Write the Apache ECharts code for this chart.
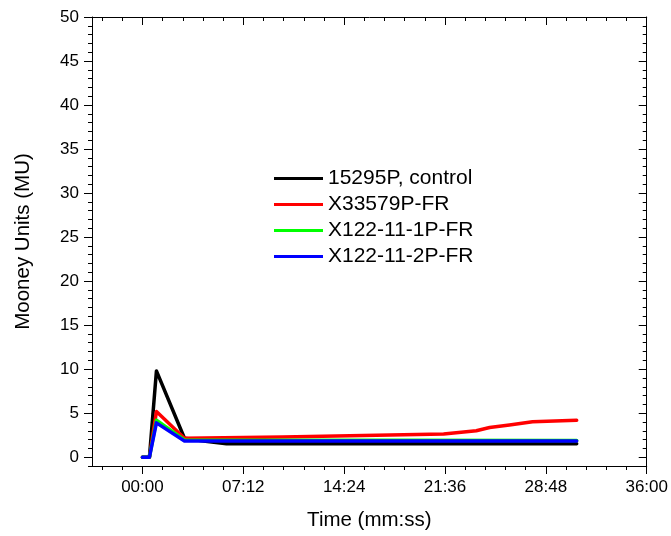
<!DOCTYPE html>
<html>
<head>
<meta charset="utf-8">
<script src="https://cdn.jsdelivr.net/npm/echarts@6/dist/echarts.min.js"></script>
<style>html,body{margin:0;padding:0;background:#fff}#c{width:671px;height:536px}</style>
</head>
<body>
<div id="c"></div>
<script>
// ---- data (time in seconds, value in Mooney Units) ----
var seriesNames = ['15295P, control', 'X33579P-FR', 'X122-11-1P-FR', 'X122-11-2P-FR'];
var seriesColors = ['#000000', '#ff0000', '#00ff00', '#0000ff'];
var controlData = [[0,0],[30,0],[60,9.8],[180,2.15],[270,1.8],[360,1.52],[1860,1.52]];
var x33579Data  = [[0,0],[30,0],[60,5.2],[180,2.15],[600,2.28],[1290,2.64],[1430,3.0],[1487,3.38],[1572,3.66],[1671,4.02],[1860,4.2]];
var x1221Data   = [[0,0],[30,0],[60,4.2],[180,1.95],[1860,1.9]];
var x1222Data   = [[0,0],[30,0],[60,3.9],[180,1.85],[1860,1.83]];

var xTickValues = [0, 432, 864, 1296, 1728, 2160];
var xTickLabels = ['00:00', '07:12', '14:24', '21:36', '28:48', '36:00'];
var xMinorValues = [-172.8,-86.4,86.4,172.8,259.2,345.6,518.4,604.8,691.2,777.6,950.4,1036.8,1123.2,1209.6,1382.4,1468.8,1555.2,1641.6,1814.4,1900.8,1987.2,2073.6];
var yTickValues = [0, 5, 10, 15, 20, 25, 30, 35, 40, 45, 50];
var yMinorValues = [-1,1,2,3,4,6,7,8,9,11,12,13,14,16,17,18,19,21,22,23,24,26,27,28,29,31,32,33,34,36,37,38,39,41,42,43,44,46,47,48,49];

var X_MIN = -216, X_MAX = 2160, Y_MIN = -1, Y_MAX = 50;
var FONT = 'Liberation Sans, Arial, sans-serif';

function line(show) { return {show: show, onZero: false, lineStyle: {color: '#000', width: 1}}; }
function xAx(opts) {
  return Object.assign({
    type: 'value', min: X_MIN, max: X_MAX, splitLine: {show: false},
    axisLine: line(true), axisLabel: {show: false}
  }, opts);
}
function yAx(opts) {
  return Object.assign({
    type: 'value', min: Y_MIN, max: Y_MAX, splitLine: {show: false},
    axisLine: line(true), axisLabel: {show: false}
  }, opts);
}

var chart = echarts.init(document.getElementById('c'));
chart.setOption({
  animation: false,
  backgroundColor: '#fff',
  grid: {left: 92, right: 20, top: 17, bottom: 68, containLabel: false},
  legend: {
    orient: 'vertical', left: 274, top: 168, padding: 0,
    itemWidth: 49, itemHeight: 3, itemGap: 5, icon: 'rect',
    textStyle: {fontSize: 21, color: '#000', fontFamily: FONT},
    data: seriesNames
  },
  xAxis: [
    xAx({position: 'bottom',
      axisTick: {show: true, inside: false, length: 8, customValues: xTickValues, lineStyle: {color: '#000'}},
      axisLabel: {show: true, customValues: xTickValues, margin: 13, fontSize: 17, color: '#000', fontFamily: FONT,
        formatter: function (v) { var k = xTickValues.indexOf(v); return k >= 0 ? xTickLabels[k] : ''; }},
      name: 'Time (mm:ss)', nameLocation: 'middle', nameGap: 44,
      nameTextStyle: {fontSize: 20.5, color: '#000', fontFamily: FONT}}),
    xAx({position: 'bottom', axisLine: line(false),
      axisTick: {show: true, inside: false, length: 4, customValues: xMinorValues, lineStyle: {color: '#000'}}}),
    xAx({position: 'top',
      axisTick: {show: true, inside: true, length: 8, customValues: xTickValues, lineStyle: {color: '#000'}}}),
    xAx({position: 'top', axisLine: line(false),
      axisTick: {show: true, inside: true, length: 4, customValues: xMinorValues, lineStyle: {color: '#000'}}})
  ],
  yAxis: [
    yAx({position: 'left',
      axisTick: {show: true, inside: false, length: 8, customValues: yTickValues, lineStyle: {color: '#000'}},
      axisLabel: {show: true, customValues: yTickValues, margin: 13, fontSize: 17, color: '#000', fontFamily: FONT},
      name: 'Mooney Units (MU)', nameLocation: 'middle', nameGap: 58,
      nameTextStyle: {fontSize: 20.5, color: '#000', fontFamily: FONT}}),
    yAx({position: 'left', axisLine: line(false),
      axisTick: {show: true, inside: false, length: 4, customValues: yMinorValues, lineStyle: {color: '#000'}}}),
    yAx({position: 'right',
      axisTick: {show: true, inside: true, length: 8, customValues: yTickValues, lineStyle: {color: '#000'}}}),
    yAx({position: 'right', axisLine: line(false),
      axisTick: {show: true, inside: true, length: 4, customValues: yMinorValues, lineStyle: {color: '#000'}}})
  ],
  series: [controlData, x33579Data, x1221Data, x1222Data].map(function (d, k) {
    return {
      name: seriesNames[k], type: 'line', data: d, xAxisIndex: 0, yAxisIndex: 0,
      symbol: 'none', color: seriesColors[k],
      lineStyle: {color: seriesColors[k], width: 3.5, cap: 'round', join: 'round'}
    };
  })
});
</script>
</body>
</html>
